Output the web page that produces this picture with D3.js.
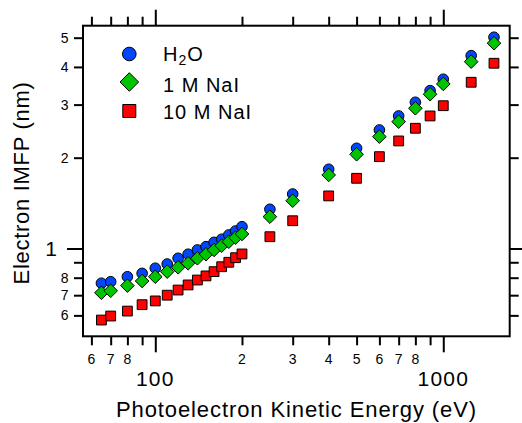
<!DOCTYPE html>
<html><head><meta charset="utf-8">
<script src="https://cdn.jsdelivr.net/npm/d3@7/dist/d3.min.js"></script>
<style>
html,body{margin:0;padding:0;background:#fff;}
text{font-family:"Liberation Sans",Arial,Helvetica,sans-serif;fill:#000;}
</style></head>
<body><svg id="c" width="522" height="423"></svg>
<script>
// ---- data ----
const energies = [65,70,80,90,100,110,120,130,140,150,160,170,180,190,200,250,300,400,500,600,700,800,900,1000,1250,1500];
const water   = [0.767,0.776,0.806,0.827,0.860,0.888,0.928,0.957,0.989,1.014,1.048,1.073,1.109,1.143,1.181,1.349,1.516,1.831,2.149,2.472,2.751,3.054,3.338,3.641,4.36,5.018];
const nai1M   = [0.713,0.724,0.753,0.780,0.806,0.838,0.866,0.893,0.928,0.957,0.989,1.022,1.053,1.086,1.117,1.275,1.440,1.753,2.053,2.349,2.634,2.917,3.247,3.513,4.165,4.794];
const nai10M  = [0.579,0.597,0.620,0.651,0.670,0.700,0.728,0.757,0.786,0.811,0.838,0.870,0.900,0.932,0.959,1.094,1.236,1.494,1.709,2.016,2.273,2.504,2.751,2.975,3.558,4.114];
const seriesNames = ["H2O","1 M NaI","10 M NaI"];
const xTicks = [60,70,80,90,100,200,300,400,500,600,700,800,900,1000];
const xTickLabels = ["6","7","8","","100","2","3","4","5","6","7","8","","1000"];
const xMajor = [100,1000];
const yTicks = [0.6,0.7,0.8,0.9,1,2,3,4,5];
const yTickLabels = ["6","7","8","","1","2","3","4","5"];
const yMajor = [1];

// ---- layout ----
const L=83, R=509.7, T=25.7, B=336.3;
const x = d3.scaleLog().domain([56.1,1700.8]).range([L,R]);
const y = d3.scaleLog().domain([0.5114,5.48]).range([B,T]);
const svg = d3.select("#c");
const minorLen=9, majorLen=16;

function finish(g){
  g.select(".domain").remove();
  g.selectAll(".tick line").attr("stroke","#000").attr("stroke-width",2);
}
// bottom
const gb = svg.append("g").attr("transform",`translate(0,${B})`)
  .call(d3.axisBottom(x).tickValues(xTicks).tickSize(minorLen).tickFormat(""));
finish(gb);
gb.selectAll(".tick").filter(d=>xMajor.includes(d)).select("line").attr("y2",majorLen);
// top
const gt = svg.append("g").attr("transform",`translate(0,${T})`)
  .call(d3.axisTop(x).tickValues(xTicks).tickSize(minorLen).tickFormat(""));
finish(gt);
gt.selectAll(".tick").filter(d=>xMajor.includes(d)).select("line").attr("y2",-majorLen);
// left
const gl = svg.append("g").attr("transform",`translate(${L},0)`)
  .call(d3.axisLeft(y).tickValues(yTicks).tickSize(minorLen).tickFormat(""));
finish(gl);
gl.selectAll(".tick").filter(d=>yMajor.includes(d)).select("line").attr("x2",-majorLen);
// right
const gr = svg.append("g").attr("transform",`translate(${R},0)`)
  .call(d3.axisRight(y).tickValues(yTicks).tickSize(minorLen).tickFormat(""));
finish(gr);
gr.selectAll(".tick").filter(d=>yMajor.includes(d)).select("line").attr("x2",majorLen);

// frame
svg.append("rect").attr("x",L).attr("y",T).attr("width",R-L).attr("height",B-T)
  .attr("fill","none").attr("stroke","#000").attr("stroke-width",2);

// x tick labels
xTicks.forEach((v,i)=>{
  const lab=xTickLabels[i]; if(!lab) return;
  const big = xMajor.includes(v);
  svg.append("text").attr("x",x(v)).attr("y", big?386:363.7)
    .attr("text-anchor","middle").attr("font-size", big?21:14)
    .attr("letter-spacing", big?1.2:0).text(lab);
});
// y tick labels
yTicks.forEach((v,i)=>{
  const lab=yTickLabels[i]; if(!lab) return;
  const big = yMajor.includes(v);
  svg.append("text").attr("x", big?57:68.5).attr("y", y(v)).attr("dy","0.36em")
    .attr("text-anchor","end").attr("font-size", big?21:14).text(lab);
});

// axis titles
svg.append("text").attr("x",296.5).attr("y",417).attr("text-anchor","middle")
  .attr("font-size",22).attr("letter-spacing",0.9).text("Photoelectron Kinetic Energy (eV)");
svg.append("text").attr("transform",`translate(29,183) rotate(-90)`).attr("text-anchor","middle")
  .attr("font-size",22).attr("letter-spacing",0.7).text("Electron IMFP (nm)");

// markers
const colBlue="#0046ff", colGreen="#00c400", colRed="#ff0000";
const diamond = (h)=>`M0,${-h}L${h},0L0,${h}L${-h},0Z`;
const square = (s)=>`M${-s/2},${-s/2}h${s}v${s}h${-s}Z`;
const pts = (vals)=>energies.map((e,i)=>({e, v:vals[i]}));

svg.append("g").selectAll("circle").data(pts(water)).join("circle")
  .attr("cx",d=>x(d.e)).attr("cy",d=>y(d.v)).attr("r",5.3)
  .attr("fill",colBlue).attr("stroke","#000").attr("stroke-width",1);
svg.append("g").selectAll("path").data(pts(nai1M)).join("path")
  .attr("transform",d=>`translate(${x(d.e)},${y(d.v)})`).attr("d",diamond(6.8))
  .attr("fill",colGreen).attr("stroke","#000").attr("stroke-width",1);
svg.append("g").selectAll("path").data(pts(nai10M)).join("path")
  .attr("transform",d=>`translate(${x(d.e)},${y(d.v)})`).attr("d",square(9.8))
  .attr("fill",colRed).attr("stroke","#000").attr("stroke-width",1);

// legend
const lg = svg.append("g");
lg.append("circle").attr("cx",129.3).attr("cy",54).attr("r",6.8)
  .attr("fill",colBlue).attr("stroke","#000").attr("stroke-width",1);
lg.append("path").attr("transform","translate(129.3,82)").attr("d",diamond(9.3))
  .attr("fill",colGreen).attr("stroke","#000").attr("stroke-width",1);
lg.append("path").attr("transform","translate(129.3,111)").attr("d",square(13))
  .attr("fill",colRed).attr("stroke","#000").attr("stroke-width",1);
const t1 = lg.append("text").attr("x",163).attr("y",61).attr("font-size",20).attr("letter-spacing",1);
t1.append("tspan").text("H");
t1.append("tspan").attr("font-size",14).attr("dy",4).text("2");
t1.append("tspan").attr("dy",-4).text("O");
lg.append("text").attr("x",163).attr("y",91.5).attr("font-size",20).attr("letter-spacing",1).text(seriesNames[1]);
lg.append("text").attr("x",163).attr("y",118.5).attr("font-size",20).attr("letter-spacing",1).text(seriesNames[2]);
</script></body></html>
